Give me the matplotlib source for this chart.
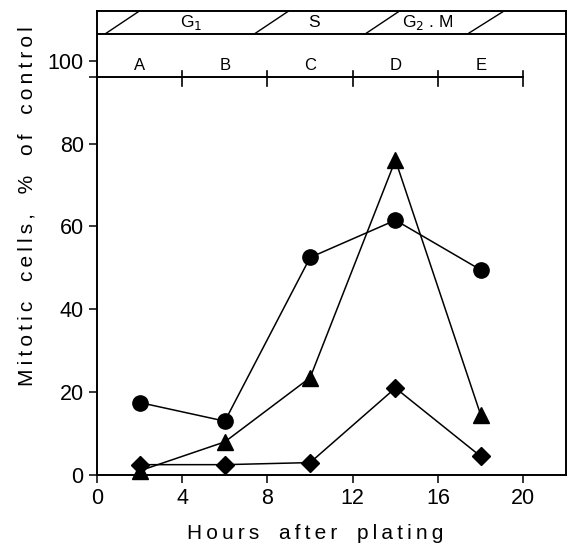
import matplotlib
matplotlib.use("Agg")
from matplotlib import pyplot as plt

hours = [2, 6, 10, 14, 18]
circles = [17.5, 13, 52.5, 61.5, 49.5]
triangles = [1, 8, 23.5, 76, 14.5]
diamonds = [2.5, 2.5, 3, 21, 4.5]

phases = ["G$_1$", "S", "G$_2$ . M"]
phase_pos = [4.4, 10.2, 15.5]
slashes = [(0.4, 2.0), (7.4, 9.0), (12.6, 14.2), (17.4, 19.1)]
stages = ["A", "B", "C", "D", "E"]
stage_edges = [0, 4, 8, 12, 16, 20]

plt.rcParams["font.family"] = ["Liberation Sans", "DejaVu Sans"]


def spaced(s):
    # wide letter spacing like the original typesetting
    return "\u2009".join(s).replace("\u2009 \u2009", "\u2009 \u2009 ")


fig = plt.figure(figsize=(5.7, 5.46), dpi=100)
ax = fig.add_axes([0.170, 0.130, 0.823, 0.850])

kw = dict(color="black", lw=1.1, clip_on=False, zorder=3)
ax.plot(hours, circles, marker="o", ms=11, **kw)
ax.plot(hours, triangles, marker="^", ms=11, **kw)
ax.plot(hours, diamonds, marker="D", ms=9.5, **kw)

ax.set_xlim(0, 22)
ax.set_ylim(0, 112)

# phase box at top
box_bottom, box_top = 106.5, 112
ax.axhline(box_bottom, color="black", lw=1.4)
for x0, x1 in slashes:
    ax.plot([x0, x1], [box_bottom, box_top], color="black", lw=1)
for lab, x in zip(phases, phase_pos):
    ax.text(x, 109.2, lab, ha="center", va="center", fontsize=12.5)

# stage bar
ax.plot([stage_edges[0], stage_edges[-1]], [96, 96], color="black", lw=1.4)
for e in stage_edges[1:]:
    ax.plot([e, e], [94.0, 97.5], color="black", lw=1.2)
for i, lab in enumerate(stages):
    ax.text((stage_edges[i] + stage_edges[i + 1]) / 2, 98.8, lab,
            ha="center", va="center", fontsize=12)

ax.set_xticks([0, 4, 8, 12, 16, 20])
ax.set_yticks([0, 20, 40, 60, 80, 100])
ax.set_yticks([96], minor=True)
ax.tick_params(which="both", direction="out", length=6, width=1.1, labelsize=15.5)
for s in ax.spines.values():
    s.set_linewidth(1.4)

ax.set_xlabel(spaced("Hours after plating"), fontsize=15)
ax.set_ylabel(spaced("Mitotic cells, % of control"), fontsize=15)
ax.xaxis.set_label_coords(0.465, -0.105)
ax.yaxis.set_label_coords(-0.128, 0.58)

fig.savefig("out.png", dpi=100)
